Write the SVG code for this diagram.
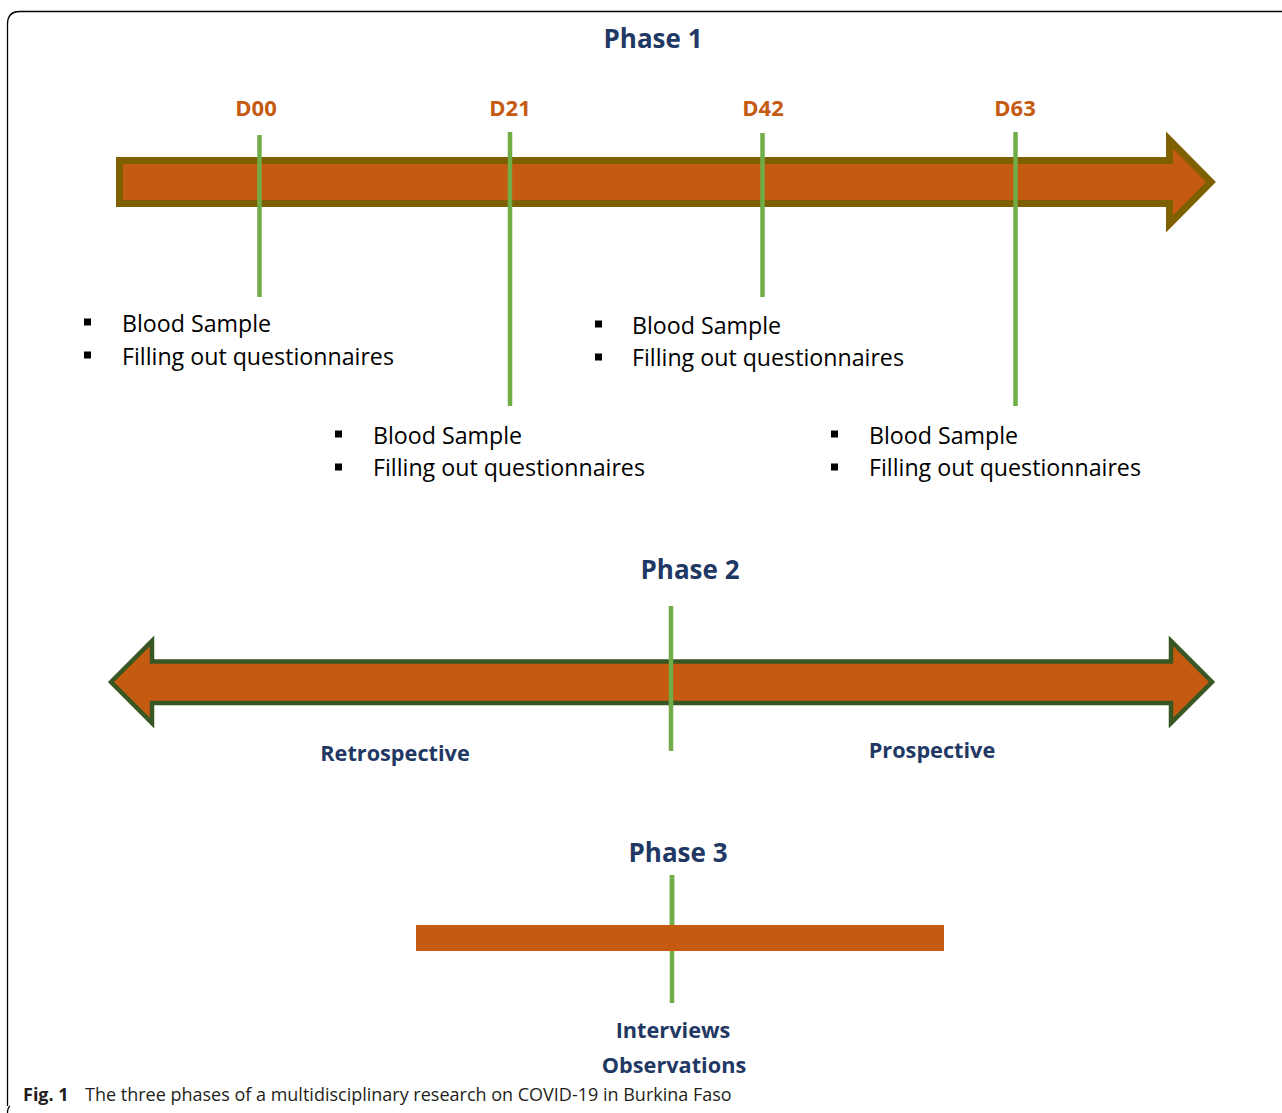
<svg xmlns="http://www.w3.org/2000/svg" width="1282" height="1113" viewBox="0 0 1282 1113">
<style>
.title{font-family:"Open Sans","DejaVu Sans",sans-serif;font-weight:bold;font-size:26px;fill:#1f3864;text-anchor:middle}
.day{font-family:"Open Sans","DejaVu Sans",sans-serif;font-weight:bold;font-size:22px;fill:#c55a11;text-anchor:middle}
.lab{font-family:"Open Sans","DejaVu Sans",sans-serif;font-weight:bold;font-size:21.7px;fill:#1f3864;text-anchor:middle}
.item{font-family:"Open Sans","DejaVu Sans",sans-serif;font-size:23.2px;fill:#000}
.tick{stroke:#70ad47;stroke-width:4.5;fill:none}
.cap{font-family:"Open Sans","DejaVu Sans",sans-serif;font-size:18px;fill:#231f20}
</style>
<rect width="1282" height="1113" fill="#fff"/>
<path d="M7.5,1113 Q7.5,1108 10,1106 M7.5,1106 L7.5,24 Q7.5,11.5 20,11.5 L1282,11.5" fill="none" stroke="#000" stroke-width="1.3"/>

<g id="phase1">
<text class="title" x="653" y="48">Phase 1</text>
<path d="M119.5,160.5 L1169.5,160.5 L1169.5,140 L1211,182 L1169.5,224 L1169.5,203.5 L119.5,203.5 Z" fill="#c55a11" stroke="#7f6000" stroke-width="7" stroke-linejoin="miter"/>
</g>

<g id="d00">
<text class="day" x="256" y="116">D00</text>
<line class="tick" x1="259.5" y1="135" x2="259.5" y2="297"/>
</g>
<g id="d21">
<text class="day" x="510" y="116">D21</text>
<line class="tick" x1="510" y1="132" x2="510" y2="406"/>
</g>
<g id="d42">
<text class="day" x="763" y="116">D42</text>
<line class="tick" x1="762.5" y1="133" x2="762.5" y2="297"/>
</g>
<g id="d63">
<text class="day" x="1015" y="116">D63</text>
<line class="tick" x1="1015.5" y1="132" x2="1015.5" y2="406"/>
</g>

<g id="list-d00">
<rect x="84" y="318.5" width="7" height="7" fill="#000"/>
<rect x="84" y="351.5" width="7" height="7" fill="#000"/>
<text class="item" x="122" y="331.5">Blood Sample</text>
<text class="item" x="122" y="364.5">Filling out questionnaires</text>
</g>
<g id="list-d21">
<rect x="335" y="430.5" width="7" height="7" fill="#000"/>
<rect x="335" y="463.5" width="7" height="7" fill="#000"/>
<text class="item" x="373" y="443.5">Blood Sample</text>
<text class="item" x="373" y="476">Filling out questionnaires</text>
</g>
<g id="list-d42">
<rect x="595" y="320.5" width="7" height="7" fill="#000"/>
<rect x="595" y="353.5" width="7" height="7" fill="#000"/>
<text class="item" x="632" y="333.5">Blood Sample</text>
<text class="item" x="632" y="366">Filling out questionnaires</text>
</g>
<g id="list-d63">
<rect x="831" y="430.5" width="7" height="7" fill="#000"/>
<rect x="831" y="463.5" width="7" height="7" fill="#000"/>
<text class="item" x="869" y="443.5">Blood Sample</text>
<text class="item" x="869" y="476">Filling out questionnaires</text>
</g>

<g id="phase2">
<text class="title" x="690" y="579">Phase 2</text>
<path d="M111,682 L152,641 L152,661.5 L1171,661.5 L1171,641 L1212,682 L1171,723 L1171,703 L152,703 L152,723 Z" fill="#c55a11" stroke="#385723" stroke-width="4.5" stroke-linejoin="miter"/>
<line class="tick" x1="671" y1="606" x2="671" y2="751"/>
<text class="lab" x="395" y="761">Retrospective</text>
<text class="lab" x="932" y="758">Prospective</text>
</g>

<g id="phase3">
<text class="title" x="678" y="862">Phase 3</text>
<line class="tick" x1="672" y1="875" x2="672" y2="1003"/>
<rect x="416" y="925" width="528" height="26" fill="#c55a11"/>
<line class="tick" x1="672" y1="875" x2="672" y2="925"/>
<text class="lab" x="673" y="1038">Interviews</text>
<text class="lab" x="674" y="1073">Observations</text>
</g>

<g id="caption">
<text class="cap" x="23" y="1101"><tspan font-weight="bold">Fig. 1</tspan><tspan x="85">The three phases of a multidisciplinary research on COVID-19 in Burkina Faso</tspan></text>
</g>
</svg>
